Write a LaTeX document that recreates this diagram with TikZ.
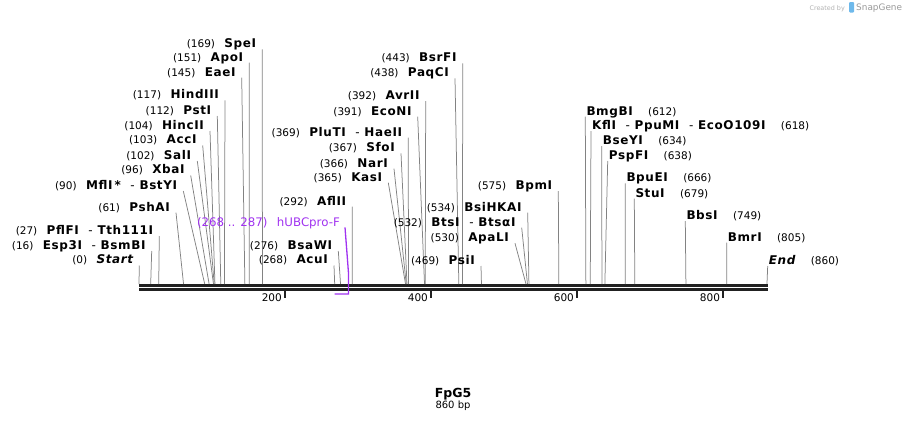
\documentclass[tikz,border=0pt]{standalone}
\usepackage{fontspec}
\setmainfont{DejaVu Sans}
\usetikzlibrary{positioning,calc}
\definecolor{primerc}{RGB}{160,50,240}
\definecolor{cutgray}{RGB}{130,130,130}
\definecolor{logoblue}{RGB}{110,185,235}
\tikzset{
enz/.style={inner sep=0pt, font=\fontsize{12}{14}\selectfont\bfseries\addfontfeature{LetterSpace=5}}, % enzyme names
num/.style={inner sep=0pt, font=\fontsize{10.5}{12}\selectfont}, % site numbers
cut/.style={draw=cutgray, line width=0.75pt}, % leader lines
backbone/.style={draw=black!87, line width=2.5pt},
tickmark/.style={draw=black!87, line width=1.6pt},
primer/.style={draw=primerc, line width=1.3pt},
}
\newcommand{\bpx}[1]{139+#1*0.7302} % bp -> x

\begin{document}
\begin{tikzpicture}[x=1pt, y=-1pt]
\useasboundingbox (0,0) rectangle (907,423);

% sequence line
\coordinate (start) at (139,285.3);
\coordinate (end) at (767.5,285.3);
\draw[backbone] (start) -- (end);
\draw[backbone] ([yshift=-4.2pt]start) -- ([yshift=-4.2pt]end);

% ruler
\foreach \t in {200,400,600,800}{
  \coordinate (tk\t) at ({\bpx{\t}},291);
  \draw[tickmark] (tk\t) -- ++(0,6.6) coordinate (te\t);
  \node[num, left=3pt of te\t, anchor=base east, yshift=-4pt] (tl\t) {\t};
}

% enzymes labelled on the left
\foreach \p/\lx/\ly/\nm [count=\i] in {
  169/262.3/43.3/SpeI,
  151/249.3/56.7/ApoI,
  145/241.7/71.7/EaeI,
  117/225/94.3/HindIII,
  112/217.3/110/PstI,
  104/210/125/HincII,
  103/202.7/139.5/AccI,
  102/197.3/155/SalI,
  96/190.7/169.5/XbaI,
  90/183.3/185/{MflI\,*\ \ {\mdseries -}\ BstYI},
  61/176/206.7/PshAI,
  27/159.3/230/{PflFI\ \ {\mdseries -}\ Tth111I},
  16/151.7/245/{Esp3I\ \ {\mdseries -}\ BsmBI},
  0/139.3/259.5/{\itshape Start},
  268/334/259.5/AcuI,
  276/338.3/245/BsaWI,
  292/352.3/200.7/AflII,
  365/388.3/176.7/KasI,
  366/394/162.7/NarI,
  367/401/147.3/SfoI,
  369/408.3/131.7/{PluTI\ \ {\mdseries -}\ HaeII},
  391/417.7/110.7/EcoNI,
  392/425.7/95/AvrII,
  438/455/72.3/PaqCI,
  443/462.7/57.3/BsrFI,
  469/481/260/PsiI,
  530/515/237.3/ApaLI,
  532/521.7/221.7/{BtsI\ \ {\mdseries -}\ BtsαI},
  534/527.7/206.7/BsiHKAI,
  575/558.3/185/BpmI}{
  \coordinate (sL\i) at ({\bpx{\p}},284);
  \coordinate (tL\i) at (\lx,\ly+6);
  \node[enz, anchor=base east] (eL\i) at (\lx-6,\ly+4.4) {\nm};
  \node[num, left=9pt of eL\i.base west, anchor=base east] (nL\i) {(\p)};
  \draw[cut] (sL\i) -- (tL\i);
}

% enzymes labelled on the right
\foreach \p/\lx/\ly/\nm [count=\i] in {
  612/585.3/110.7/BmgBI,
  618/591/125/{KflI\ \ {\mdseries -}\ PpuMI\ \ {\mdseries -}\ EcoO109I},
  634/601.7/140/BseYI,
  638/607.7/155/PspFI,
  666/625.3/177.3/BpuEI,
  679/634.3/192.7/StuI,
  749/685.3/215/BbsI,
  805/726.7/236.7/BmrI,
  860/767.7/260/{\itshape End}}{
  \coordinate (sR\i) at ({\bpx{\p}},284);
  \coordinate (tR\i) at (\lx,\ly+6);
  \node[enz, anchor=base west] (eR\i) at (\lx+1,\ly+4.4) {\nm};
  \node[num, right=15pt of eR\i.base east, anchor=base west] (nR\i) {(\p)};
  \draw[cut] (sR\i) -- (tR\i);
}

% primer
\node[num, text=primerc, font=\fontsize{11.8}{13}\selectfont, anchor=base east] (pr) at (340,226) {hUBCpro-F};
\node[num, text=primerc, font=\fontsize{11.8}{13}\selectfont, left=9pt of pr.base west, anchor=base east] (prn) {(268 .. 287)};
\coordinate (prtop) at (345,227.3);
\coordinate (prbend) at ({\bpx{287}},274);
\coordinate (pr1) at ({\bpx{287}},294);
\coordinate (pr0) at ({\bpx{268}},294);
\draw[primer] (prtop) -- (prbend) -- (pr1) -- (pr0);

% title
\node[font=\fontsize{12.5}{15}\selectfont\bfseries, inner sep=0pt, anchor=base] (title) at (453,397.2) {FpG5};
\node[num, font=\fontsize{10}{12}\selectfont, anchor=base] (size) at (453,408) {860 bp};

% watermark
\node[inner sep=0pt, anchor=base east, text=black!30, font=\fontsize{6.4}{8}\selectfont] (made) at (845,10) {Created by};
\fill[logoblue, rounded corners=1pt] (849,2) rectangle (854,12.5);
\node[inner sep=0pt, anchor=base west, text=black!40, font=\fontsize{8.9}{10}\selectfont] (sg) at (856,10.5) {SnapGene};
\end{tikzpicture}
\end{document}
